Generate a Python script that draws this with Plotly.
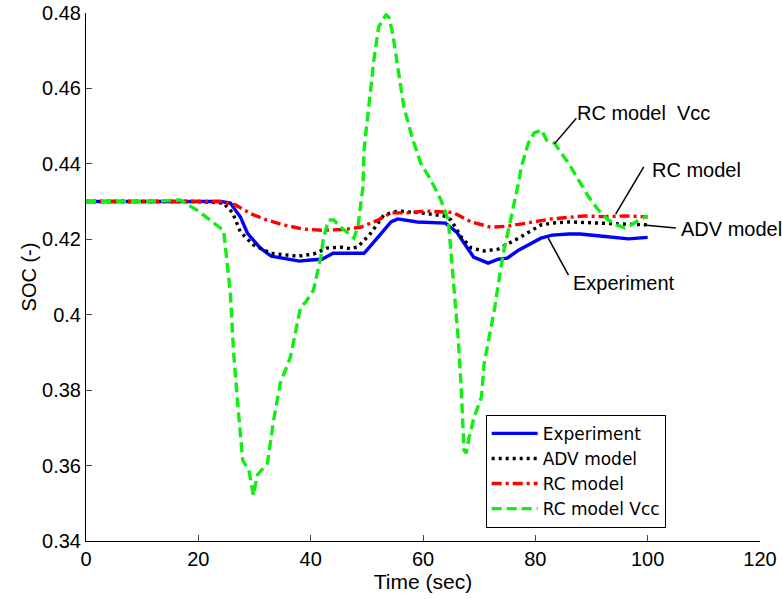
import plotly.graph_objects as go

# ---- data ----
t_exp = [0, 10, 20, 24, 25.7, 27.5, 28.75, 31, 33, 36, 38, 40, 42, 44, 47, 49.5, 52, 54.3, 55.5,
         59, 64, 66, 67.3, 69, 71.6, 73.4, 75, 77, 81, 83, 86, 88, 92, 96.6, 100]
soc_exp = [0.430, 0.430, 0.4302, 0.430, 0.4296, 0.4259, 0.4216, 0.4177, 0.4155, 0.4147, 0.4142,
           0.4145, 0.4147, 0.4163, 0.4163, 0.4163, 0.4206, 0.4246, 0.4254, 0.4246, 0.4243, 0.4219,
           0.419, 0.4153, 0.4137, 0.4147, 0.4150, 0.4171, 0.4203, 0.4211, 0.4214, 0.4214, 0.4208,
           0.4201, 0.4205]

t_adv = [0, 10, 20, 24.5, 26.1, 27.5, 29.8, 32.9, 37.7, 40.5, 43, 45.4, 47, 48.4, 50.7, 53, 55.5,
         59.6, 63.75, 65, 66.8, 68.6, 70.9, 73.4, 77, 81, 83, 86, 92, 100]
soc_adv = [0.430, 0.430, 0.430, 0.4296, 0.427, 0.4219, 0.4185, 0.4163, 0.4155, 0.4161, 0.4177,
           0.4179, 0.4175, 0.4180, 0.4216, 0.4264, 0.4275, 0.427, 0.4262, 0.4251, 0.4206, 0.4177,
           0.4169, 0.4174, 0.4203, 0.4238, 0.4243, 0.4246, 0.4243, 0.4238]

t_rc = [0, 10, 20, 24, 26.6, 29.3, 32, 35.2, 38.75, 42, 45.9, 48.9, 52, 54.3, 57.3, 60.2, 64.5,
        65.5, 68.6, 72.1, 75.2, 79.3, 82.9, 88.75, 92, 96, 100]
soc_rc = [0.430, 0.430, 0.430, 0.4300, 0.4291, 0.4268, 0.4252, 0.4238, 0.4227, 0.4224, 0.4226,
          0.4232, 0.4251, 0.427, 0.4270, 0.4275, 0.4272, 0.427, 0.4246, 0.4232, 0.4235, 0.4246,
          0.4254, 0.4262, 0.4260, 0.4262, 0.4259]

t_vcc = [0, 10, 16.8, 20, 23.9, 24.5, 25.7, 26.25, 27.0, 27.9, 29.0, 29.8, 30.5, 32.3, 33.4, 34.6,
         36.4, 38.2, 39.1, 40.5, 41.8, 42.3, 43.2, 44.1, 45.4, 47.7, 48.4, 49.3, 49.5, 50.4, 51.25,
         52.1, 53.4, 53.9, 54.6, 55.5, 56.6, 58.2, 59.6, 61.4, 63.2, 64.5, 65.0, 65.5, 66.25, 66.8,
         67.1, 67.3, 67.7, 68.2, 69.1, 70.4, 70.9, 71.8, 72.7, 73.6, 74.3, 75.2, 76.1, 77.0, 77.5,
         78.75, 79.8, 81.1, 82.0, 83.4, 84.6, 85.9, 87.7, 89.5, 91.25, 93.0, 94.5, 95.9, 97.1,
         98.4, 100]
soc_vcc = [0.430, 0.430, 0.4304, 0.4275, 0.4230, 0.4224, 0.4057, 0.3906, 0.3766, 0.3614, 0.3588,
           0.3521, 0.3575, 0.3606, 0.372, 0.3819, 0.3888, 0.402, 0.4033, 0.4065, 0.4153, 0.4206,
           0.4251, 0.4251, 0.4232, 0.4203, 0.4232, 0.4338, 0.4437, 0.4569, 0.4675, 0.4763, 0.4795,
           0.4789, 0.4747, 0.4657, 0.4551, 0.4463, 0.4402, 0.4357, 0.4304, 0.4251, 0.4163, 0.4092,
           0.3941, 0.3808, 0.3720, 0.3641, 0.3633, 0.3675, 0.3728, 0.3781, 0.3872, 0.3941, 0.4012,
           0.4100, 0.4163, 0.4224, 0.4285, 0.4349, 0.4392, 0.4455, 0.4482, 0.4490, 0.4463, 0.4455,
           0.4429, 0.4402, 0.4357, 0.4312, 0.4277, 0.4251, 0.4238, 0.4230, 0.4238, 0.4251, 0.4262]

series_names = ["Experiment", "ADV model", "RC model", "RC model Vcc"]

# callout labels: text, text anchor (x, y), leader line from (x0,y0) to (x1,y1)
callouts = [
    ("RC model  Vcc", 87.1, 0.4535, 87.3, 0.4521, 83.4, 0.4453),
    ("RC model", 100.4, 0.4384, 99.3, 0.4392, 94.3, 0.4267),
    ("ADV model", 105.5, 0.4227, 105.0, 0.4230, 99.3, 0.4238),
    ("Experiment", 86.4, 0.4084, 85.9, 0.4105, 82.3, 0.4203),
]

x_ticks = [0, 20, 40, 60, 80, 100, 120]
y_ticks = [0.34, 0.36, 0.38, 0.40, 0.42, 0.44, 0.46, 0.48]
y_tick_text = ["0.34", "0.36", "0.38", "0.4", "0.42", "0.44", "0.46", "0.48"]

FONT = "Liberation Sans, Arial, sans-serif"
LEGEND_FONT = "DejaVu Sans, Liberation Sans, sans-serif"
FS = 20

fig = go.Figure()
fig.add_trace(go.Scatter(x=t_exp, y=soc_exp, mode="lines", name=series_names[0],
                         line=dict(color="#0000ff", width=3.4)))
fig.add_trace(go.Scatter(x=t_adv, y=soc_adv, mode="lines", name=series_names[1],
                         line=dict(color="#000000", width=3.4, dash="3px,4px")))
fig.add_trace(go.Scatter(x=t_rc, y=soc_rc, mode="lines", name=series_names[2],
                         line=dict(color="#ff0000", width=3.4, dash="10px,4px,3px,4px")))
fig.add_trace(go.Scatter(x=t_vcc, y=soc_vcc, mode="lines", name=series_names[3],
                         line=dict(color="#11ee11", width=3.4, dash="10px,5px")))

for txt, tx, ty, x0, y0, x1, y1 in callouts:
    fig.add_shape(type="line", xref="x", yref="y", x0=x0, y0=y0, x1=x1, y1=y1,
                  line=dict(color="black", width=1.5))
    fig.add_annotation(x=tx, y=ty, xref="x", yref="y", text=txt, showarrow=False,
                       xanchor="left", yanchor="middle",
                       font=dict(family=FONT, size=FS, color="black"))

fig.update_layout(
    width=782, height=599,
    margin=dict(l=86, r=22, t=13, b=58),
    paper_bgcolor="white", plot_bgcolor="white",
    font=dict(family=FONT, size=FS, color="black"),
    showlegend=True,
    legend=dict(x=0.593, y=0.025, xanchor="left", yanchor="bottom",
                bordercolor="black", borderwidth=1, bgcolor="white",
                font=dict(family=LEGEND_FONT, size=17, color="black"),
                tracegroupgap=0, itemwidth=46),
)
fig.update_xaxes(range=[0, 120], tickvals=x_ticks, ticks="inside", ticklen=6,
                 showline=True, linecolor="black", linewidth=1, showgrid=False,
                 zeroline=False, mirror=False, automargin=False,
                 title=dict(text="Time (sec)", standoff=2,
                            font=dict(family=FONT, size=FS + 1, color="black")),
                 tickfont=dict(family=FONT, size=FS, color="black"))
fig.update_yaxes(range=[0.34, 0.48], tickvals=y_ticks, ticktext=y_tick_text,
                 ticks="inside", ticklen=6,
                 showline=True, linecolor="black", linewidth=1, showgrid=False,
                 zeroline=False, mirror=False, automargin=False,
                 title=dict(text="SOC (-)", standoff=0,
                            font=dict(family=FONT, size=FS, color="black")),
                 tickfont=dict(family=FONT, size=FS, color="black"))

fig.write_html("out.html", config={"displayModeBar": False},
               post_script="document.body.style.margin='0';")
